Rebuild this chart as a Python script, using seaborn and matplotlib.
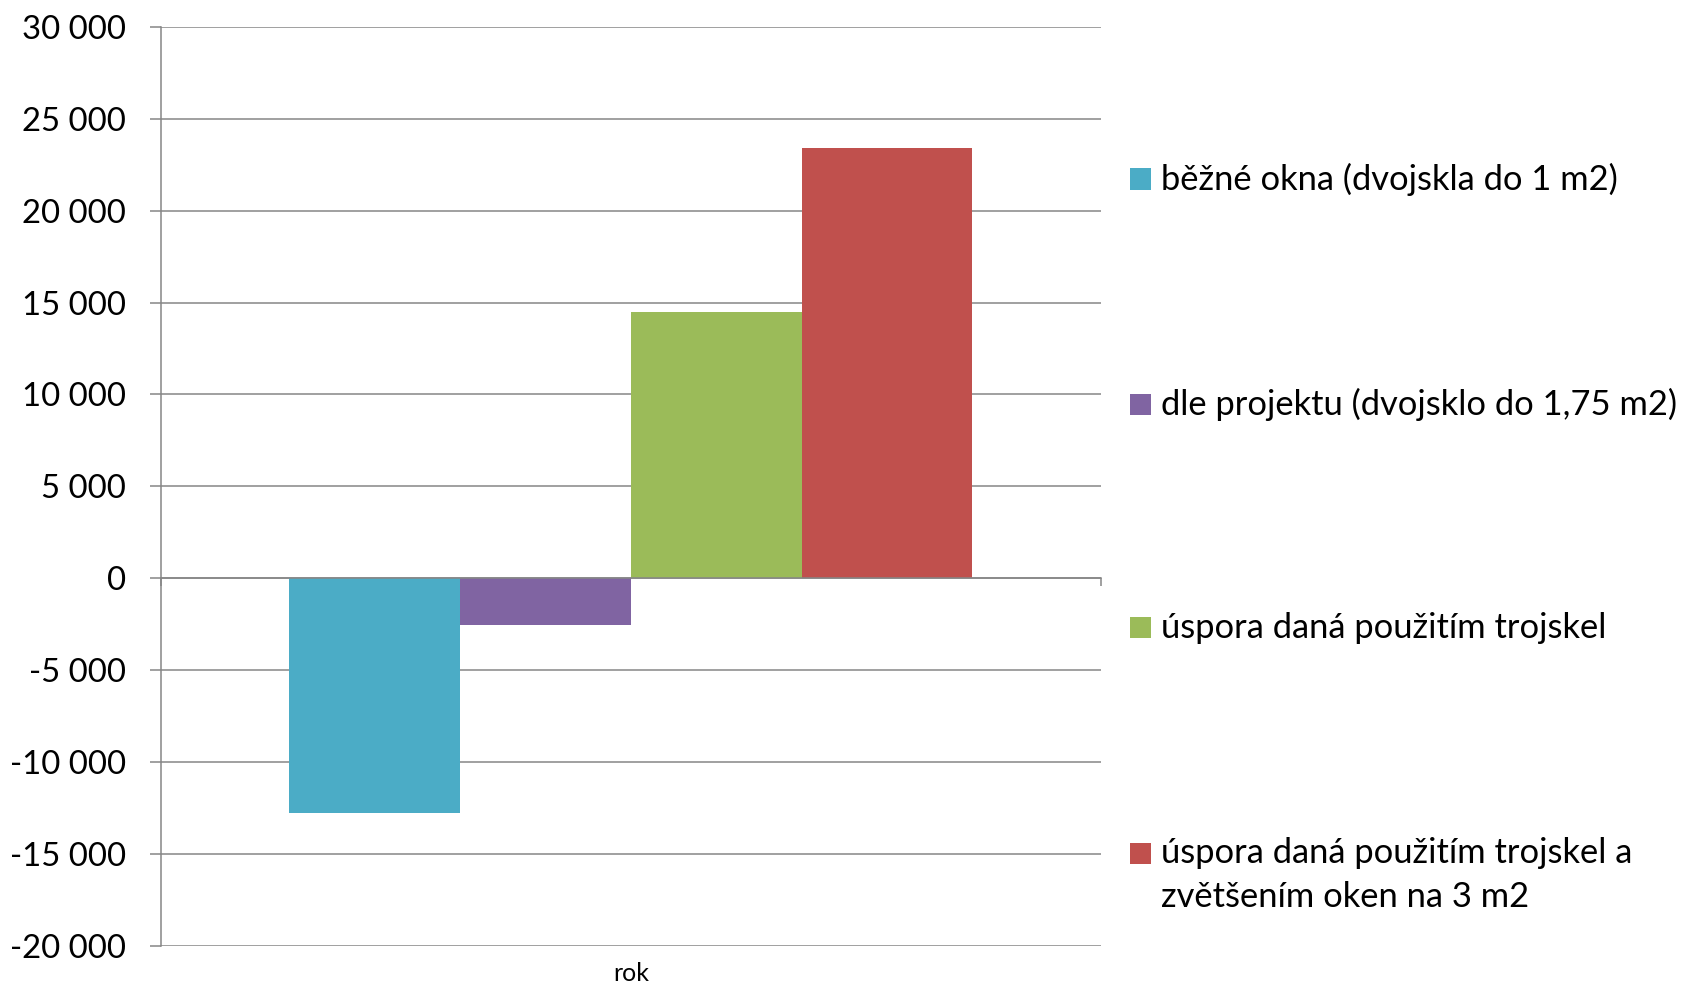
import matplotlib
matplotlib.use("Agg")
import matplotlib.pyplot as plt
from matplotlib.patches import Rectangle
from matplotlib.ticker import FuncFormatter, MultipleLocator
import seaborn as sns
import pandas as pd

# Series data
categories = ["rok"]
series = [
    "běžné okna (dvojskla do 1 m2)",
    "dle projektu (dvojsklo do 1,75 m2)",
    "úspora daná použitím trojskel",
    "úspora daná použitím trojskel a\nzvětšením oken na 3 m2",
]
values = [-12770, -2540, 14500, 23400]
colors = ["#4BACC6", "#8064A2", "#9BBB59", "#C0504D"]

df = pd.DataFrame({"kategorie": categories * len(series), "rada": series, "hodnota": values})

sns.set_theme(style="white")
plt.rcParams["font.family"] = ["Lato", "DejaVu Sans"]

W, H = 1682, 990
fig = plt.figure(figsize=(W / 100, H / 100), dpi=100)
ax = fig.add_axes([161 / W, (H - 945.7) / H, (1100.6 - 161) / W, (945.7 - 27) / H])

sns.barplot(data=df, x="kategorie", y="hodnota", hue="rada", palette=colors,
            width=0.727, gap=0, saturation=1, legend=False, ax=ax, errorbar=None)
for p in ax.patches:
    p.set_edgecolor("none")

grid_c = "#868686"
ax.set_ylim(-20000, 30000)
ax.set_xlim(-0.5, 0.5)
ax.yaxis.set_major_locator(MultipleLocator(5000))
ax.yaxis.set_major_formatter(FuncFormatter(lambda v, _: f"{v:,.0f}".replace(",", " ")))
ax.grid(axis="y", color=grid_c, linewidth=1.1)
ax.set_axisbelow(True)
ax.set_xlabel("")
ax.set_ylabel("")

for s in ("top", "right"):
    ax.spines[s].set_visible(False)
ax.spines["left"].set_color(grid_c)
ax.spines["left"].set_linewidth(1.1)
ax.spines["bottom"].set_position(("data", 0))
ax.spines["bottom"].set_color(grid_c)
ax.spines["bottom"].set_linewidth(1.1)

ax.tick_params(axis="y", left=True, length=8, width=1.1, color=grid_c,
               pad=17, labelsize=23.7, labelcolor="black")
ax.set_xticks([0], categories)
ax.set_xticks([-0.5, 0.5], minor=True)
ax.tick_params(axis="x", which="major", length=0, pad=276, labelsize=18, labelcolor="black")
ax.tick_params(axis="x", which="minor", bottom=True, length=6, width=1.1, color=grid_c)

# Legend on the right
leg_y = [179, 404, 627.5, 853]
sq = 21
for lab, col, yc in zip(series, colors, leg_y):
    fig.patches.append(Rectangle((1130 / W, (H - yc - sq / 2) / H), sq / W, sq / H,
                                 transform=fig.transFigure, facecolor=col, edgecolor="none"))
    lines = lab.split("\n")
    for i, line in enumerate(lines):
        fig.text(1161 / W, (H - yc - i * 44) / H, line, fontsize=24.8,
                 va="center", ha="left", color="black")

fig.savefig("out.png", dpi=100)
